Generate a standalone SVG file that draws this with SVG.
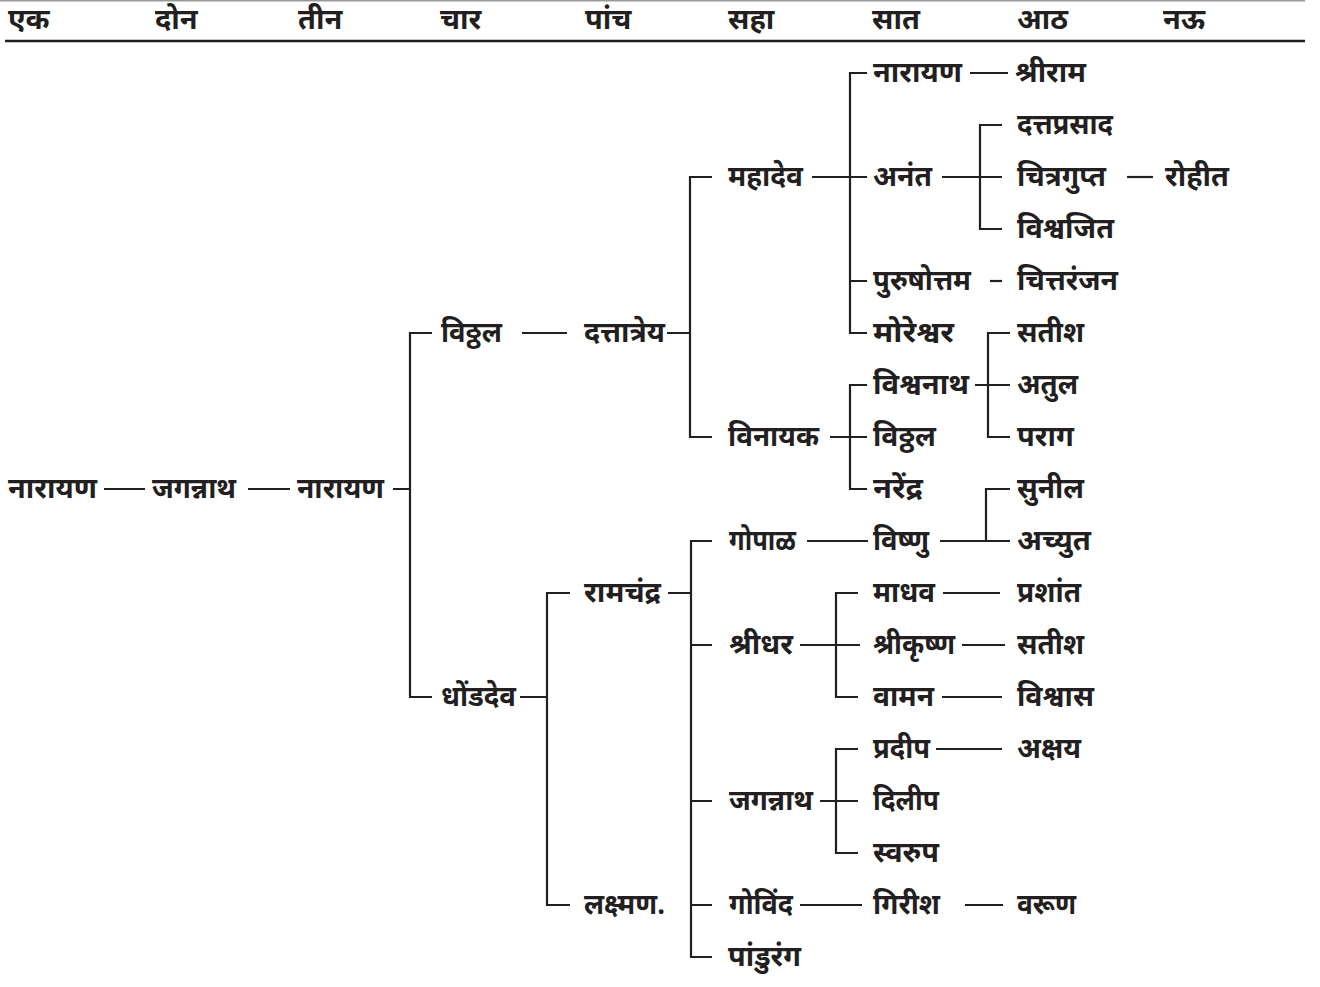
<svg xmlns="http://www.w3.org/2000/svg" width="1320" height="987" viewBox="0 0 1320 987">
<style>
text{font-family:"Noto Sans Devanagari","Lohit Devanagari","Noto Sans",sans-serif;font-weight:700;font-size:29px;fill:#231f20}
.c path{fill:none;stroke:#231f20;stroke-width:2.2}
</style>
<rect width="1320" height="987" fill="#fff"/>
<g id="header">
<line x1="0" y1="0.8" x2="1305" y2="0.8" stroke="#999" stroke-width="1.5"/>
<line x1="5" y1="41" x2="1305" y2="41" stroke="#231f20" stroke-width="2.6"/>
<text x="8" y="29">एक</text>
<text x="155" y="29">दोन</text>
<text x="298" y="29">तीन</text>
<text x="440" y="29">चार</text>
<text x="585" y="29">पांच</text>
<text x="728" y="29">सहा</text>
<text x="872" y="29">सात</text>
<text x="1017" y="29">आठ</text>
<text x="1163" y="29">नऊ</text>
</g>
<g class="c" id="connectors">
<path d="M104,489H145"/>
<path d="M248,489H290"/>
<path d="M393,489H410M432,333H410V697H432"/>
<path d="M522,333H567"/>
<path d="M667,333H690M712,177H690V437H712"/>
<path d="M812,177H867M867,73H850V333H867M850,281H867"/>
<path d="M970,73H1008"/>
<path d="M942,177H1002M1002,125H980V229H1002"/>
<path d="M1127,177H1153"/>
<path d="M990,281H1002"/>
<path d="M975,385H1010M1010,333H988V437H1010"/>
<path d="M830,437H867M867,385H850V489H867"/>
<path d="M940,541H1010M1010,489H986V541"/>
<path d="M807,541H868"/>
<path d="M520,697H547M570,593H547V905H570"/>
<path d="M668,593H691M712,541H691V957H712M691,645H712M691,801H712M691,905H712"/>
<path d="M800,645H860M858,593H836V697H858"/>
<path d="M943,593H1000M962,645H1005M942,697H1002"/>
<path d="M820,801H858M858,749H836V853H858"/>
<path d="M936,749H1002"/>
<path d="M800,905H862M965,905H1003"/>
</g>
<g id="n1"><text x="8" y="498" textLength="89" lengthAdjust="spacingAndGlyphs">नारायण</text></g>
<g id="n2"><text x="152" y="498" textLength="84" lengthAdjust="spacingAndGlyphs">जगन्नाथ</text></g>
<g id="n3"><text x="297" y="498" textLength="87" lengthAdjust="spacingAndGlyphs">नारायण</text></g>
<g id="n4"><text x="441" y="342" textLength="61" lengthAdjust="spacingAndGlyphs">विठ्ठल</text></g>
<g id="n5"><text x="441" y="706" textLength="75" lengthAdjust="spacingAndGlyphs">धोंडदेव</text></g>
<g id="n6"><text x="584" y="342" textLength="81" lengthAdjust="spacingAndGlyphs">दत्तात्रेय</text></g>
<g id="n7"><text x="584" y="602" textLength="77" lengthAdjust="spacingAndGlyphs">रामचंद्र</text></g>
<g id="n8"><text x="584" y="914" textLength="81" lengthAdjust="spacingAndGlyphs">लक्ष्मण.</text></g>
<g id="n9"><text x="728" y="186" textLength="75" lengthAdjust="spacingAndGlyphs">महादेव</text></g>
<g id="n10"><text x="728" y="446" textLength="91" lengthAdjust="spacingAndGlyphs">विनायक</text></g>
<g id="n11"><text x="729" y="550" textLength="67" lengthAdjust="spacingAndGlyphs">गोपाळ</text></g>
<g id="n12"><text x="729" y="654" textLength="64" lengthAdjust="spacingAndGlyphs">श्रीधर</text></g>
<g id="n13"><text x="729" y="810" textLength="84" lengthAdjust="spacingAndGlyphs">जगन्नाथ</text></g>
<g id="n14"><text x="729" y="914" textLength="64" lengthAdjust="spacingAndGlyphs">गोविंद</text></g>
<g id="n15"><text x="728" y="966" textLength="73" lengthAdjust="spacingAndGlyphs">पांडुरंग</text></g>
<g id="n16"><text x="873" y="82" textLength="89" lengthAdjust="spacingAndGlyphs">नारायण</text></g>
<g id="n17"><text x="873" y="186" textLength="59" lengthAdjust="spacingAndGlyphs">अनंत</text></g>
<g id="n18"><text x="873" y="290" textLength="98" lengthAdjust="spacingAndGlyphs">पुरुषोत्तम</text></g>
<g id="n19"><text x="873" y="342" textLength="81" lengthAdjust="spacingAndGlyphs">मोरेश्वर</text></g>
<g id="n20"><text x="873" y="394" textLength="96" lengthAdjust="spacingAndGlyphs">विश्वनाथ</text></g>
<g id="n21"><text x="873" y="446" textLength="63" lengthAdjust="spacingAndGlyphs">विठ्ठल</text></g>
<g id="n22"><text x="873" y="498" textLength="50" lengthAdjust="spacingAndGlyphs">नरेंद्र</text></g>
<g id="n23"><text x="873" y="550" textLength="56" lengthAdjust="spacingAndGlyphs">विष्णु</text></g>
<g id="n24"><text x="873" y="602" textLength="62" lengthAdjust="spacingAndGlyphs">माधव</text></g>
<g id="n25"><text x="873" y="654" textLength="82" lengthAdjust="spacingAndGlyphs">श्रीकृष्ण</text></g>
<g id="n26"><text x="873" y="706" textLength="61" lengthAdjust="spacingAndGlyphs">वामन</text></g>
<g id="n27"><text x="873" y="758" textLength="57" lengthAdjust="spacingAndGlyphs">प्रदीप</text></g>
<g id="n28"><text x="873" y="810" textLength="66" lengthAdjust="spacingAndGlyphs">दिलीप</text></g>
<g id="n29"><text x="873" y="862" textLength="66" lengthAdjust="spacingAndGlyphs">स्वरुप</text></g>
<g id="n30"><text x="873" y="914" textLength="67" lengthAdjust="spacingAndGlyphs">गिरीश</text></g>
<g id="n31"><text x="1015" y="82" textLength="71" lengthAdjust="spacingAndGlyphs">श्रीराम</text></g>
<g id="n32"><text x="1017" y="134" textLength="96" lengthAdjust="spacingAndGlyphs">दत्तप्रसाद</text></g>
<g id="n33"><text x="1017" y="186" textLength="89" lengthAdjust="spacingAndGlyphs">चित्रगुप्त</text></g>
<g id="n34"><text x="1017" y="238" textLength="97" lengthAdjust="spacingAndGlyphs">विश्वजित</text></g>
<g id="n35"><text x="1017" y="290" textLength="101" lengthAdjust="spacingAndGlyphs">चित्तरंजन</text></g>
<g id="n36"><text x="1017" y="342" textLength="67" lengthAdjust="spacingAndGlyphs">सतीश</text></g>
<g id="n37"><text x="1017" y="394" textLength="61" lengthAdjust="spacingAndGlyphs">अतुल</text></g>
<g id="n38"><text x="1017" y="446" textLength="57" lengthAdjust="spacingAndGlyphs">पराग</text></g>
<g id="n39"><text x="1017" y="498" textLength="67" lengthAdjust="spacingAndGlyphs">सुनील</text></g>
<g id="n40"><text x="1017" y="550" textLength="74" lengthAdjust="spacingAndGlyphs">अच्युत</text></g>
<g id="n41"><text x="1017" y="602" textLength="64" lengthAdjust="spacingAndGlyphs">प्रशांत</text></g>
<g id="n42"><text x="1017" y="654" textLength="67" lengthAdjust="spacingAndGlyphs">सतीश</text></g>
<g id="n43"><text x="1017" y="706" textLength="77" lengthAdjust="spacingAndGlyphs">विश्वास</text></g>
<g id="n44"><text x="1017" y="758" textLength="64" lengthAdjust="spacingAndGlyphs">अक्षय</text></g>
<g id="n45"><text x="1017" y="914" textLength="59" lengthAdjust="spacingAndGlyphs">वरूण</text></g>
<g id="n46"><text x="1165" y="186" textLength="64" lengthAdjust="spacingAndGlyphs">रोहीत</text></g>
</svg>
